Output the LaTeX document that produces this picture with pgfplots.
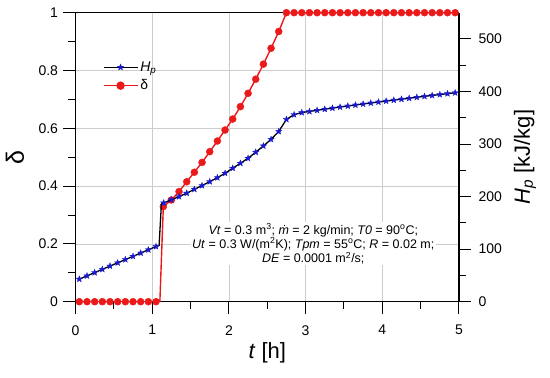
\documentclass[border=0pt]{standalone}
\usepackage{fontspec}
\setmainfont{Liberation Sans}
\usepackage{pgfplots}
\pgfplotsset{compat=1.18}
\pgfdeclareplotmark{fstar}{%
  \pgfpathmoveto{\pgfpointpolar{90}{\pgfplotmarksize}}%
  \pgfpathlineto{\pgfpointpolar{126}{0.42\pgfplotmarksize}}%
  \pgfpathlineto{\pgfpointpolar{162}{\pgfplotmarksize}}%
  \pgfpathlineto{\pgfpointpolar{198}{0.42\pgfplotmarksize}}%
  \pgfpathlineto{\pgfpointpolar{234}{\pgfplotmarksize}}%
  \pgfpathlineto{\pgfpointpolar{270}{0.42\pgfplotmarksize}}%
  \pgfpathlineto{\pgfpointpolar{306}{\pgfplotmarksize}}%
  \pgfpathlineto{\pgfpointpolar{342}{0.42\pgfplotmarksize}}%
  \pgfpathlineto{\pgfpointpolar{18}{\pgfplotmarksize}}%
  \pgfpathlineto{\pgfpointpolar{54}{0.42\pgfplotmarksize}}%
  \pgfpathclose\pgfusepathqfillstroke}
\definecolor{gridgray}{RGB}{205,205,205}
\definecolor{myred}{RGB}{235,25,25}
\definecolor{myblue}{RGB}{25,25,210}
\pgfplotsset{
  hpline/.style={black,line width=1.3pt},
  hpmark/.style={mark=fstar,mark size=3.3pt,mark options={myblue,fill=myblue,line width=0.3pt}},
  dline/.style={myred,line width=1.4pt},
  dmark/.style={mark=*,mark size=3.5pt,mark options={myred,fill=myred}},
}
\begin{document}
\begin{tikzpicture}
\useasboundingbox (-75.5pt,-76.3pt) rectangle (474.5pt,301.7pt);
\begin{axis}[width=383.5pt,height=289pt,scale only axis,
  xmin=0,xmax=5,ymin=0,ymax=1,
  axis line style={line width=1pt},
  tick align=outside,
  major tick length=12pt,minor tick length=7pt,
  every tick/.append style={black,line width=1pt},
  tick label style={font=\fontsize{14}{16}\selectfont},
  xticklabel style={yshift=-8pt},
  yticklabel style={xshift=-2pt},
  /pgf/number format/assume math mode=true,
  xtick={0,1,2,3,4,5},minor xtick={0.5,1.5,2.5,3.5,4.5},
  ytick={0,0.2,0.4,0.6,0.8,1},minor ytick={0.1,0.3,0.5,0.7,0.9},
  xtick pos=left,ytick pos=left,
  xmajorgrids,ymajorgrids,major grid style={gridgray,line width=0.7pt},
  xlabel={\textit{t} [h]},
  xlabel style={at={(axis description cs:0.5,-0.1765)},anchor=center,font=\fontsize{22}{24}\selectfont},
  ylabel={δ},
  ylabel style={at={(axis description cs:-0.158,0.5)},anchor=center,font=\fontsize{25}{27}\selectfont},
  legend image code/.code={\draw[mark repeat=2,mark phase=2,#1] plot coordinates {(0pt,0pt) (17pt,0pt) (34pt,0pt)};},
  legend style={at={(0.063,0.845)},anchor=north west,draw=none,fill=none,font=\fontsize{14}{16}\selectfont,row sep=3pt,
    nodes={inner sep=2pt}},
  legend cell align=left,
  after end axis/.code={
    \pgfplotsinvokeforeach{0,1,2,3,4,5}{\draw[black,line width=1pt] (axis cs:##1,0) -- ++(0,-12pt);}
    \pgfplotsinvokeforeach{0.5,1.5,2.5,3.5,4.5}{\draw[black,line width=1pt] (axis cs:##1,0) -- ++(0,-7pt);}
    \pgfplotsinvokeforeach{0,0.2,0.4,0.6,0.8,1}{\draw[black,line width=1pt] (axis cs:0,##1) -- ++(-12pt,0);}
    \pgfplotsinvokeforeach{0.1,0.3,0.5,0.7,0.9}{\draw[black,line width=1pt] (axis cs:0,##1) -- ++(-7pt,0);}
  },
]
\addlegendimage{hpline,hpmark}
\addlegendentry{\textit{H}\textsubscript{\textit{p}}}
\addplot[dline,forget plot] coordinates {
(0.05,0)(0.15,0)(0.25,0)(0.35,0)(0.45,0)(0.55,0)(0.65,0)(0.75,0)(0.85,0)(0.95,0)(1.05,0)(1.10,0)
(1.145,0.329)(1.25,0.352)(1.35,0.381)(1.45,0.415)(1.55,0.448)(1.65,0.482)(1.75,0.519)(1.85,0.556)
(1.95,0.594)(2.05,0.632)(2.15,0.675)(2.25,0.721)(2.35,0.770)(2.45,0.822)(2.55,0.877)(2.65,0.935)(2.75,1.0)
(2.85,1)(2.95,1)(3.05,1)(3.15,1)(3.25,1)(3.35,1)(3.45,1)(3.55,1)(3.65,1)(3.75,1)(3.85,1)
(3.95,1)(4.05,1)(4.15,1)(4.25,1)(4.35,1)(4.45,1)(4.55,1)(4.65,1)(4.75,1)(4.85,1)(4.95,1)};
\addplot[only marks,dmark,forget plot] coordinates {
(0.05,0)(0.15,0)(0.25,0)(0.35,0)(0.45,0)(0.55,0)(0.65,0)(0.75,0)(0.85,0)(0.95,0)(1.05,0)
(1.145,0.329)(1.25,0.352)(1.35,0.381)(1.45,0.415)(1.55,0.448)(1.65,0.482)(1.75,0.519)(1.85,0.556)
(1.95,0.594)(2.05,0.632)(2.15,0.675)(2.25,0.721)(2.35,0.770)(2.45,0.822)(2.55,0.877)(2.65,0.935)(2.75,1.0)
(2.85,1)(2.95,1)(3.05,1)(3.15,1)(3.25,1)(3.35,1)(3.45,1)(3.55,1)(3.65,1)(3.75,1)(3.85,1)
(3.95,1)(4.05,1)(4.15,1)(4.25,1)(4.35,1)(4.45,1)(4.55,1)(4.65,1)(4.75,1)(4.85,1)(4.95,1)};
\addlegendimage{dline,dmark}
\addlegendentry{δ}
\node[fill=white,align=center,inner sep=1.5pt,font=\fontsize{12.5}{13}\selectfont] at (axis cs:3.1,0.2)
{\textit{Vt} = 0.3 m\textsuperscript{3}; \textit{\.{m}} = 2 kg/min; \textit{T0} = 90\textsuperscript{o}C;\\
 \textit{Ut} = 0.3 W/(m\textsuperscript{2}K); \textit{Tpm} = 55\textsuperscript{o}C; \textit{R} = 0.02 m;\\
 \textit{DE} = 0.0001 m\textsuperscript{2}/s;};
\end{axis}
\begin{axis}[width=383.5pt,height=289pt,scale only axis,
  xmin=0,xmax=5,ymin=0,ymax=550,
  axis y line*=right,axis x line=none,
  axis line style={-,line width=1pt},
  tick align=outside,
  major tick length=12pt,minor tick length=7pt,
  every tick/.append style={black,line width=1pt},
  tick label style={font=\fontsize{14}{16}\selectfont},
  yticklabel style={xshift=4pt},
  /pgf/number format/assume math mode=true,
  ytick={0,100,200,300,400,500},minor ytick={50,150,250,350,450},
  ylabel={\textit{H}\textsubscript{\textit{p}} [kJ/kg]},
  ylabel style={at={(axis description cs:1.1721,0.5)},anchor=center,font=\fontsize{22}{24}\selectfont},
  after end axis/.code={
    \pgfplotsinvokeforeach{0,100,200,300,400,500}{\draw[black,line width=1pt] (axis cs:5,##1) -- ++(12pt,0);}
    \pgfplotsinvokeforeach{50,150,250,350,450}{\draw[black,line width=1pt] (axis cs:5,##1) -- ++(7pt,0);}
  },
]
\addplot[hpline] coordinates {
(0.05,43)(0.15,49.2)(0.25,55.4)(0.35,61.6)(0.45,67.8)(0.55,74)(0.65,80.2)(0.75,86.4)(0.85,92.6)(0.95,98.8)(1.05,105)
(1.09,107)(1.12,186)
(1.15,188)(1.25,194)(1.35,200)(1.45,206.5)(1.55,214)(1.65,221)(1.75,228.5)(1.85,236)(1.95,244.5)(2.05,254)
(2.15,263.5)(2.25,273)(2.35,284.5)(2.45,296.5)(2.55,309)(2.65,324)(2.75,347)(2.85,356)(2.95,360)
(3.05,362)(3.15,364.2)(3.25,366.3)(3.35,368.4)(3.45,370.4)(3.55,372.4)(3.65,374.3)(3.75,376.2)(3.85,378.1)
(3.95,380)(4.05,381.8)(4.15,383.6)(4.25,385.4)(4.35,387.2)(4.45,389)(4.55,390.8)(4.65,392.5)(4.75,394.2)
(4.85,395.9)(4.95,397.6)};
\addplot[only marks,hpmark] coordinates {
(0.05,43)(0.15,49.2)(0.25,55.4)(0.35,61.6)(0.45,67.8)(0.55,74)(0.65,80.2)(0.75,86.4)(0.85,92.6)(0.95,98.8)(1.05,105)
(1.15,188)(1.25,194)(1.35,200)(1.45,206.5)(1.55,214)(1.65,221)(1.75,228.5)(1.85,236)(1.95,244.5)(2.05,254)
(2.15,263.5)(2.25,273)(2.35,284.5)(2.45,296.5)(2.55,309)(2.65,324)(2.75,347)(2.85,356)(2.95,360)
(3.05,362)(3.15,364.2)(3.25,366.3)(3.35,368.4)(3.45,370.4)(3.55,372.4)(3.65,374.3)(3.75,376.2)(3.85,378.1)
(3.95,380)(4.05,381.8)(4.15,383.6)(4.25,385.4)(4.35,387.2)(4.45,389)(4.55,390.8)(4.65,392.5)(4.75,394.2)
(4.85,395.9)(4.95,397.6)};
\end{axis}
\end{tikzpicture}
\end{document}
